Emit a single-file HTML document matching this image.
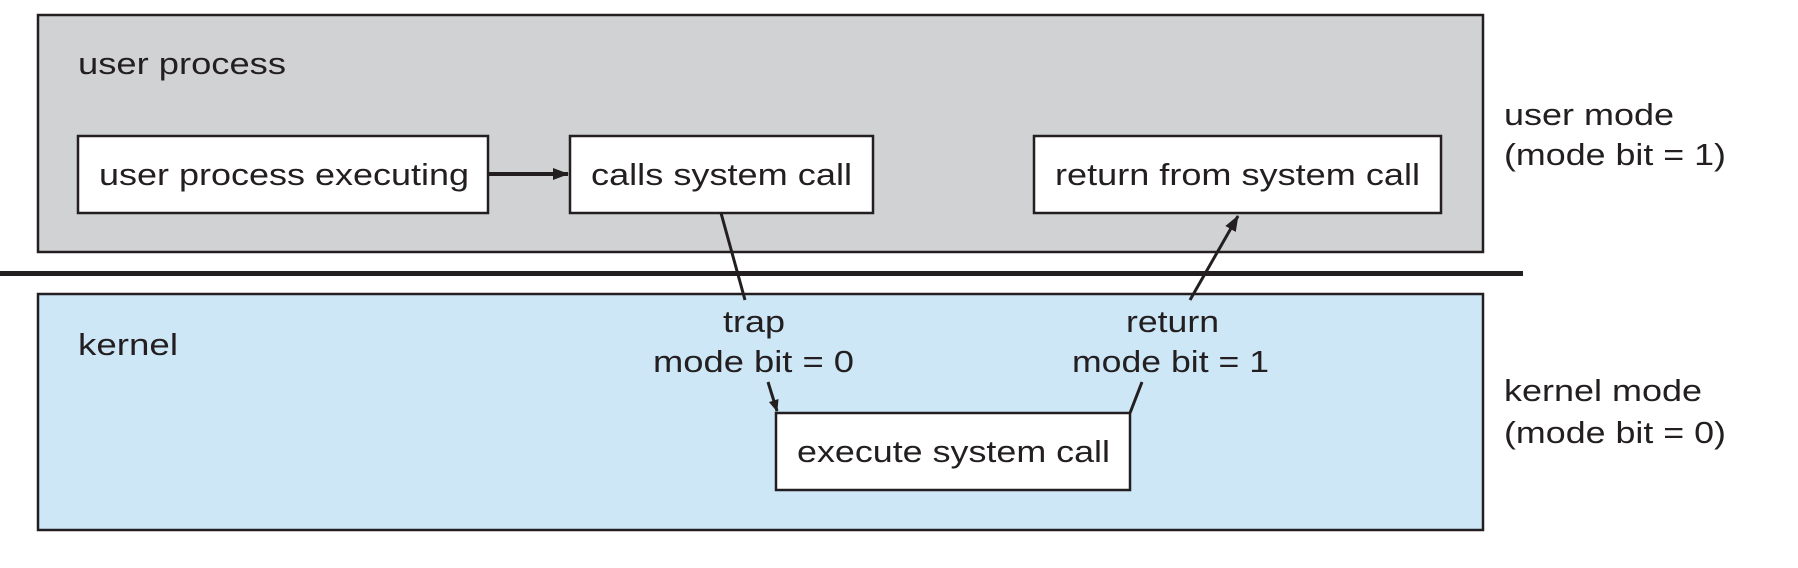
<!DOCTYPE html>
<html><head><meta charset="utf-8"><style>html,body{margin:0;padding:0;background:#fff}svg{display:block}</style></head>
<body>
<svg width="1798" height="568" viewBox="0 0 1798 568" xmlns="http://www.w3.org/2000/svg" font-family="Liberation Sans, sans-serif" font-size="31" fill="#231f20">
<defs><marker id="ah" markerWidth="12" markerHeight="12" refX="11" refY="6" orient="auto" markerUnits="userSpaceOnUse" viewBox="0 0 12 12"><path d="M0,1 L12,6 L0,11 z" fill="#231f20"/></marker>
<marker id="ah2" markerWidth="16" markerHeight="14" refX="15" refY="7" orient="auto" markerUnits="userSpaceOnUse" viewBox="0 0 16 14"><path d="M0,1 L16,7 L0,13 z" fill="#231f20"/></marker></defs>
<rect x="38" y="15" width="1445" height="237" fill="#d1d2d4" stroke="#231f20" stroke-width="2.5"/>
<rect x="38" y="294" width="1445" height="236" fill="#cde7f6" stroke="#231f20" stroke-width="2.5"/>
<rect x="0" y="271" width="1523" height="5" fill="#231f20"/>
<g fill="#fff" stroke="#231f20" stroke-width="2.5">
<rect x="78" y="136" width="410" height="77"/>
<rect x="570" y="136" width="303" height="77"/>
<rect x="1034" y="136" width="407" height="77"/>
<rect x="776" y="413" width="354" height="77"/>
</g>
<g stroke="#231f20" stroke-width="3" fill="none">
<line x1="488" y1="174" x2="568" y2="174" stroke-width="4" marker-end="url(#ah2)"/>
<line x1="721" y1="213" x2="745" y2="300"/>
<line x1="768" y1="382" x2="777" y2="411" marker-end="url(#ah)"/>
<line x1="1130" y1="413" x2="1142" y2="382"/>
<line x1="1190" y1="300" x2="1238" y2="216" marker-end="url(#ah2)"/>
</g>
<text x="78" y="74" textLength="208" lengthAdjust="spacingAndGlyphs">user process</text>
<text x="99" y="185" textLength="370" lengthAdjust="spacingAndGlyphs">user process executing</text>
<text x="591" y="185" textLength="261" lengthAdjust="spacingAndGlyphs">calls system call</text>
<text x="1055" y="185" textLength="365" lengthAdjust="spacingAndGlyphs">return from system call</text>
<text x="797" y="462" textLength="313" lengthAdjust="spacingAndGlyphs">execute system call</text>
<text x="78" y="355" textLength="100" lengthAdjust="spacingAndGlyphs">kernel</text>
<text x="723" y="332" textLength="62" lengthAdjust="spacingAndGlyphs">trap</text>
<text x="653" y="372" textLength="201" lengthAdjust="spacingAndGlyphs">mode bit = 0</text>
<text x="1126" y="332" textLength="93" lengthAdjust="spacingAndGlyphs">return</text>
<text x="1072" y="372" textLength="197" lengthAdjust="spacingAndGlyphs">mode bit = 1</text>
<text x="1504" y="125" textLength="170" lengthAdjust="spacingAndGlyphs">user mode</text>
<text x="1504" y="165" textLength="222" lengthAdjust="spacingAndGlyphs">(mode bit = 1)</text>
<text x="1504" y="401" textLength="198" lengthAdjust="spacingAndGlyphs">kernel mode</text>
<text x="1504" y="443" textLength="222" lengthAdjust="spacingAndGlyphs">(mode bit = 0)</text>
</svg>
</body></html>
